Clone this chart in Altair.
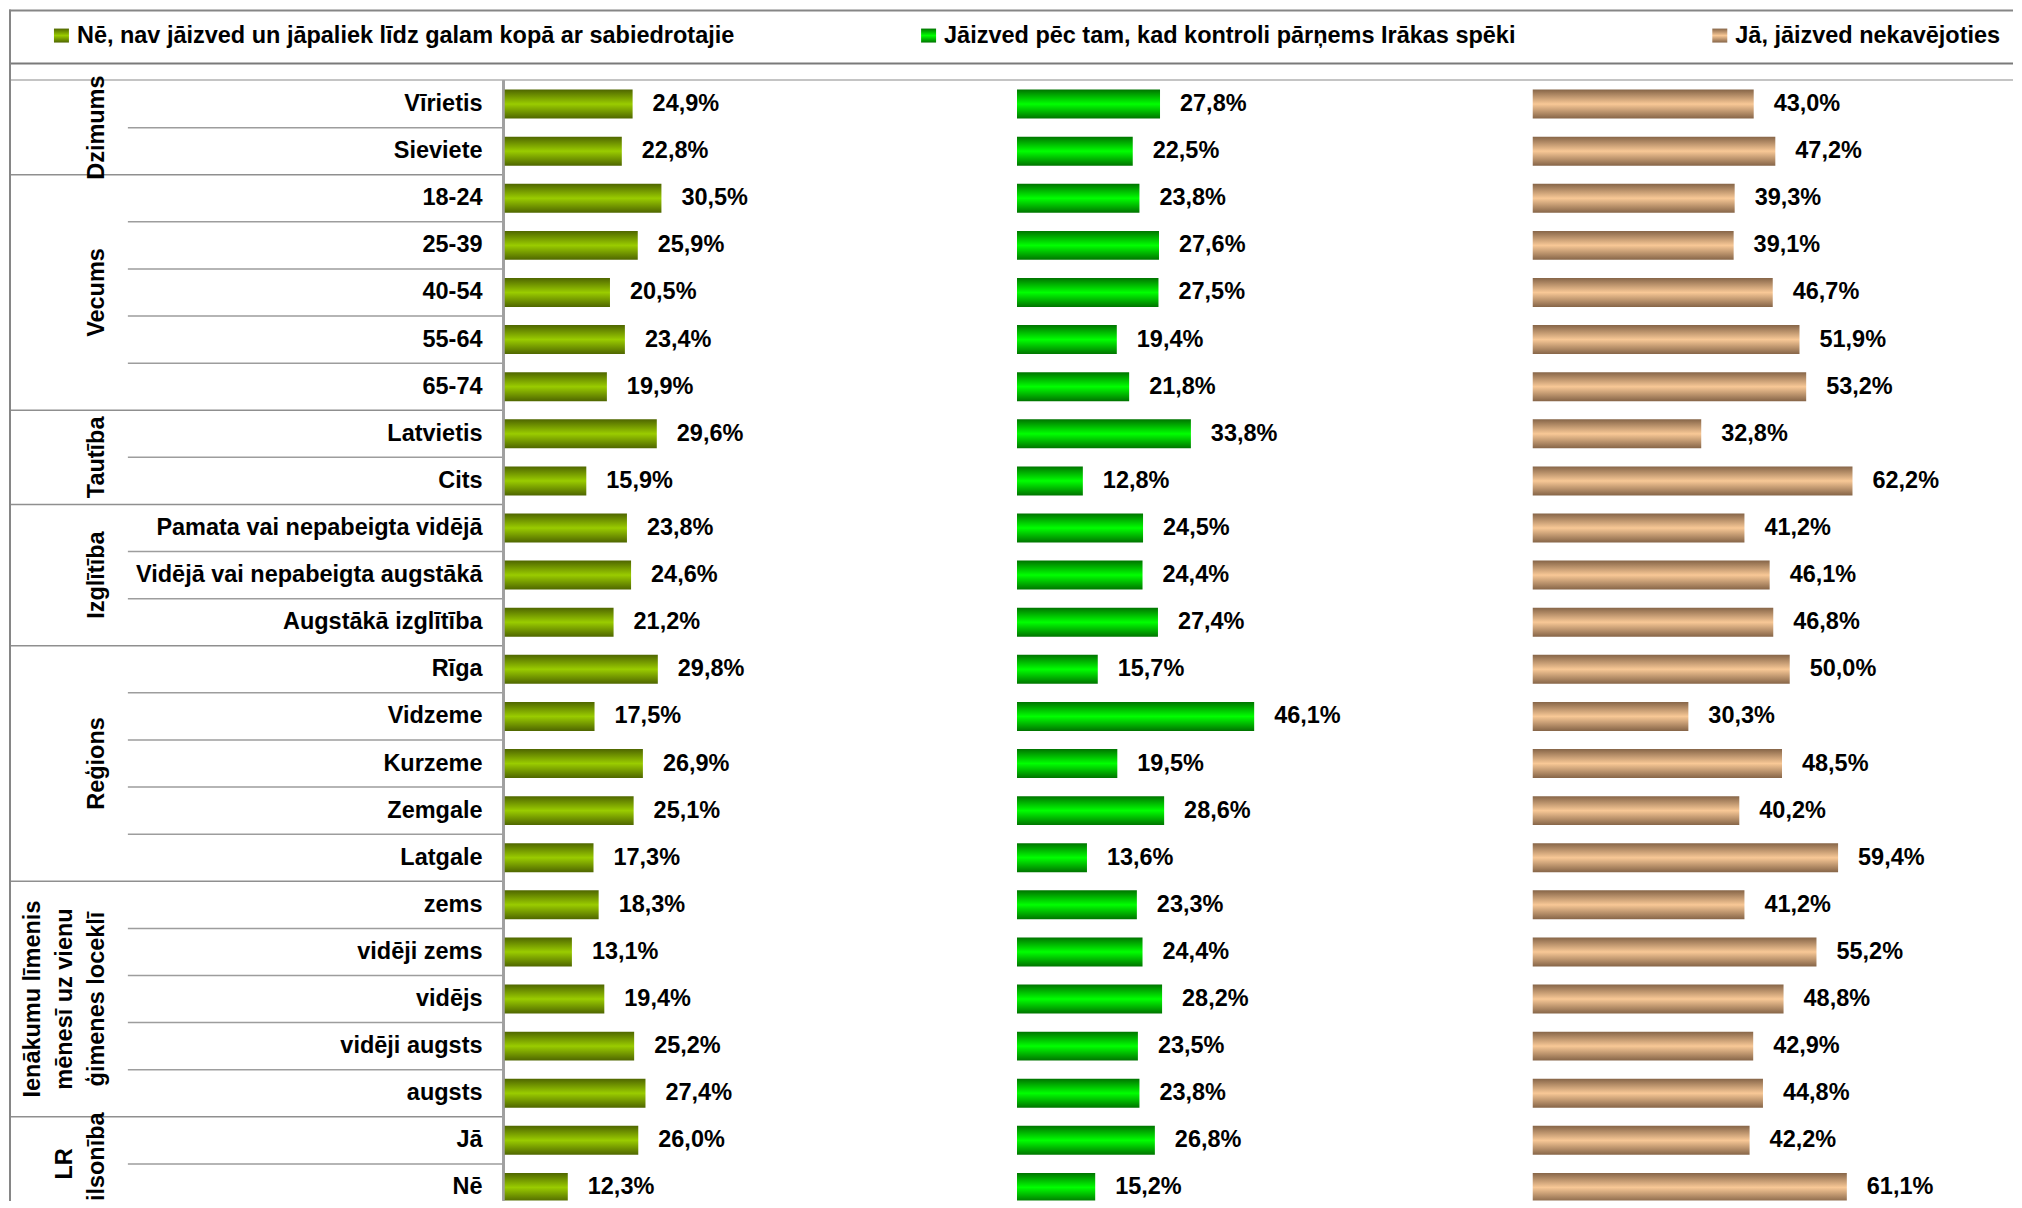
import altair as alt
import pandas as pd

# ---------------- data ----------------
series = [
    "Nē, nav jāizved un jāpaliek līdz galam kopā ar sabiedrotajie",
    "Jāizved pēc tam, kad kontroli pārņems Irākas spēki",
    "Jā, jāizved nekavējoties",
]

groups = [
    "Dzimums",
    "Vecums",
    "Tautība",
    "Izglītība",
    "Reģions",
    "Ienākumu līmenis\nmēnesī uz vienu\nģimenes loceklī",
    "LR\npilsonība",
]
group_sizes = [2, 5, 2, 3, 5, 5, 2]

categories = [
    "Vīrietis", "Sieviete",
    "18-24", "25-39", "40-54", "55-64", "65-74",
    "Latvietis", "Cits",
    "Pamata vai nepabeigta vidējā", "Vidējā vai nepabeigta augstākā", "Augstākā izglītība",
    "Rīga", "Vidzeme", "Kurzeme", "Zemgale", "Latgale",
    "zems", "vidēji zems", "vidējs", "vidēji augsts", "augsts",
    "Jā", "Nē",
]

ne_values = [24.9, 22.8, 30.5, 25.9, 20.5, 23.4, 19.9, 29.6, 15.9, 23.8, 24.6, 21.2,
             29.8, 17.5, 26.9, 25.1, 17.3, 18.3, 13.1, 19.4, 25.2, 27.4, 26.0, 12.3]
pec_values = [27.8, 22.5, 23.8, 27.6, 27.5, 19.4, 21.8, 33.8, 12.8, 24.5, 24.4, 27.4,
              15.7, 46.1, 19.5, 28.6, 13.6, 23.3, 24.4, 28.2, 23.5, 23.8, 26.8, 15.2]
ja_values = [43.0, 47.2, 39.3, 39.1, 46.7, 51.9, 53.2, 32.8, 62.2, 41.2, 46.1, 46.8,
             50.0, 30.3, 48.5, 40.2, 59.4, 41.2, 55.2, 48.8, 42.9, 44.8, 42.2, 61.1]

# ---------------- layout / style ----------------
FONT = "Liberation Sans"
FS = 23.5
ROW = 47.15
NROWS = len(categories)
Y_RANGE = [0, ROW * NROWS]
PX_PER = 5.15
LABEL_W = 496
PANEL_W = [513, 516, 481]
TOTAL_W = LABEL_W + sum(PANEL_W)
LEGEND_H = 71
MAIN_H = 1121
GROUP_X = 100
GROUP_LH = 32
legend_x = [45, 913, 1705]

palette = [("#4f6600", "#9acc00"), ("#007400", "#00ff00"), ("#866548", "#f8c896")]


def grad(dark, light):
    return alt.Gradient(
        gradient="linear", x1=0, y1=0, x2=0, y2=1,
        stops=[alt.GradientStop(color=dark, offset=0),
               alt.GradientStop(color=light, offset=0.5),
               alt.GradientStop(color=dark, offset=1)],
    )


# ---------------- tables ----------------
rows = []
i = 0
for g, n in zip(groups, group_sizes):
    for j in range(n):
        rows.append({"idx": i, "cat": categories[i], "group": g, "first": j == 0})
        i += 1
rows_df = pd.DataFrame(rows)

starts = []
s = 0
for n in group_sizes:
    starts.append(s)
    s += n
group_df = pd.DataFrame({
    "group": groups,
    "start": starts,
    "n": group_sizes,
    "nlines": [g.count("\n") + 1 for g in groups],
})

yq_scale = alt.Scale(domain=[0, NROWS], range=Y_RANGE, nice=False, zero=False)


def yq(field):
    return alt.Y(field, type="quantitative", scale=yq_scale, axis=None)


# ---------------- label column ----------------
sep_cat = alt.Chart(rows_df).transform_filter("!datum.first").mark_rule(
    color="#9d9d9d", strokeWidth=1.5, clip=True
).encode(y=yq("idx"), x=alt.value(119), x2=alt.value(495))

sep_grp = alt.Chart(rows_df).transform_filter("datum.first && datum.idx > 0").mark_rule(
    color="#8f8f8f", strokeWidth=1.5, clip=True
).encode(y=yq("idx"), x=alt.value(1), x2=alt.value(495))

cat_text = alt.Chart(rows_df).transform_calculate(cmid="datum.idx + 0.5").mark_text(
    align="right", baseline="middle", font=FONT, fontSize=FS, fontWeight="bold",
    color="black", clip=True
).encode(y=yq("cmid"), x=alt.value(474), text="cat:N")

grp_common = dict(angle=270, align="center", baseline="bottom", lineBreak="\n",
                  lineHeight=GROUP_LH, font=FONT, fontSize=FS, fontWeight="bold", color="black")


def group_layer(filter_expr, clip):
    return alt.Chart(group_df).transform_filter(filter_expr).transform_calculate(
        mid="datum.start + datum.n / 2",
        gx=f"{GROUP_X} - {GROUP_LH} * (datum.nlines - 1)",
    ).mark_text(clip=clip, **grp_common).encode(
        y=yq("mid"), x=alt.X("gx:Q", scale=None), text="group:N")


grp_text_a = group_layer(f"datum.start + datum.n < {NROWS}", False)
grp_text_b = group_layer(f"datum.start + datum.n >= {NROWS}", True)

axis_line = alt.Chart(group_df).mark_rule(color="#a0a0a0", strokeWidth=2).encode(
    x=alt.value(495), y=alt.value(0), y2=alt.value(MAIN_H))
left_border = alt.Chart(group_df).mark_rule(color="#868686", strokeWidth=2).encode(
    x=alt.value(1), y=alt.value(0), y2=alt.value(MAIN_H))

label_chart = alt.layer(
    sep_cat, sep_grp, cat_text, grp_text_a, grp_text_b, axis_line, left_border
).properties(width=LABEL_W, height=MAIN_H)


# ---------------- bar panels ----------------
def panel(values, w, colors):
    df = pd.DataFrame({"cat": categories, "v": values})
    ys = alt.Y("cat:N", sort=categories,
               scale=alt.Scale(range=Y_RANGE, paddingInner=0, paddingOuter=0, round=False),
               axis=None)
    xs = alt.X("v:Q", scale=alt.Scale(domain=[0, w / PX_PER], nice=False, zero=True),
               axis=None)
    base = alt.Chart(df)
    bars = base.mark_bar(size=29, color=grad(*colors), clip=True).encode(y=ys, x=xs)
    labels = base.transform_calculate(
        lbl="replace(format(datum.v, '.1f'), '.', ',') + '%'"
    ).mark_text(align="left", baseline="middle", dx=20, font=FONT, fontSize=FS,
                fontWeight="bold", color="black", clip=True).encode(y=ys, x=xs, text="lbl:N")
    return alt.layer(bars, labels).properties(width=w, height=MAIN_H)


p1 = panel(ne_values, PANEL_W[0], palette[0])
p2 = panel(pec_values, PANEL_W[1], palette[1])
p3 = panel(ja_values, PANEL_W[2], palette[2])

# ---------------- legend strip ----------------
leg_df = pd.DataFrame({"series": series, "mx": legend_x, "k": [0, 1, 2]})

markers = [
    alt.Chart(leg_df).transform_filter(alt.datum.k == k).transform_calculate(
        mx2="datum.mx + 15"
    ).mark_rect(color=grad(*palette[k])).encode(
        x=alt.X("mx:Q", scale=None), x2="mx2:Q", y=alt.value(19), y2=alt.value(33))
    for k in range(3)
]
leg_text = alt.Chart(leg_df).transform_calculate(tx="datum.mx + 23").mark_text(
    align="left", baseline="middle", font=FONT, fontSize=FS, fontWeight="bold", color="black"
).encode(x=alt.X("tx:Q", scale=None), y=alt.value(26), text="series:N")

frame_df = pd.DataFrame({"k": [0]})
top_line = alt.Chart(frame_df).mark_rule(color="#868686", strokeWidth=2).encode(
    x=alt.value(0), x2=alt.value(TOTAL_W), y=alt.value(1))
leg_bottom = alt.Chart(frame_df).mark_rule(color="#7a7a7a", strokeWidth=2).encode(
    x=alt.value(1), x2=alt.value(TOTAL_W), y=alt.value(54))
plot_top = alt.Chart(frame_df).mark_rule(color="#c4c4c4", strokeWidth=2).encode(
    x=alt.value(1), x2=alt.value(TOTAL_W), y=alt.value(70.5))
leg_left = alt.Chart(frame_df).mark_rule(color="#868686", strokeWidth=2).encode(
    x=alt.value(1), y=alt.value(0), y2=alt.value(LEGEND_H))

legend_chart = alt.layer(
    top_line, leg_bottom, plot_top, leg_left, *markers, leg_text
).properties(width=TOTAL_W, height=LEGEND_H)

main_row = alt.hconcat(label_chart, p1, p2, p3, spacing=0, bounds="flush")

chart = alt.vconcat(legend_chart, main_row, spacing=0, bounds="flush").properties(
    padding=0
).configure_view(stroke=None)

chart.save("out.html", embed_options={"renderer": "svg", "actions": False})
